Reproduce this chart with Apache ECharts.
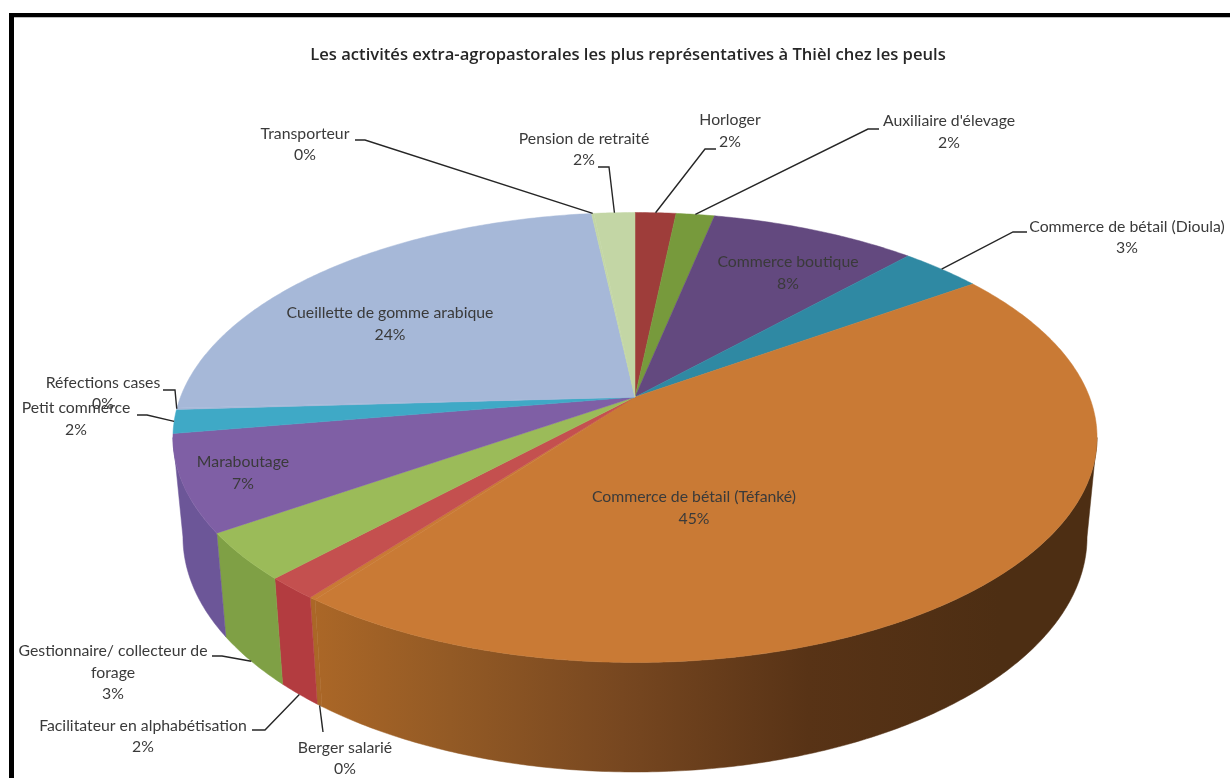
<!DOCTYPE html>
<html><head><meta charset="utf-8">
<style>html,body{margin:0;padding:0;background:#fff}#c{width:1230px;height:778px}</style>
<script src="https://cdn.jsdelivr.net/npm/echarts@6/dist/echarts.min.js"></script>
</head><body><div id="c"></div>
<script>
const titleText = "Les activités extra-agropastorales les plus représentatives à Thièl chez les peuls";
const categories = ["Horloger","Auxiliaire d'élevage","Commerce boutique","Commerce de bétail (Dioula)","Commerce de bétail (Téfanké)","Berger salarié","Facilitateur en alphabétisation","Gestionnaire/ collecteur de\nforage","Maraboutage","Petit commerce","Réfections cases","Cueillette de gomme arabique","Transporteur","Pension de retraité"];
const values = [1.7,1.6,8.6,3.4,45.0,0.2,1.6,3.4,6.9,1.7,0.1,24.0,0.1,1.7];
const percentLabels = ["2%","2%","8%","3%","45%","0%","2%","3%","7%","2%","0%","24%","0%","2%"];
const topColors = ["#9e3d3a","#779a3c","#63497f","#2f89a3","#c97a35","#c97a35","#c4504f","#9bbb59","#7f5fa5","#3fa9c6","#a6b8d8","#a6b8d8","#c3d6a5","#c3d6a5"];
const sideColors = ["#7e2f2d","#5f7b30","#4f3a66","#256d82","#a0611f","#b06a28","#b33c40","#7fa045","#6c5698","#32879e","#8493ad","#8493ad","#9cab84","#9cab84"];

// Layout of the drawing (not data)
const TOP = {cx:635, cy:437.5, rx:462, ry:225, apexY:397, k:0.18, H:217.7, R:454.5};
const BOTTOM = {cx:635, cy:537, rx:452, ry:235};
const labelCenters = [[730,131],[949,132],[788,273],[1127,237.5],[694,508],[345,758.5],[143,736.5],[113,672.5],[243,473],[76,419],[103,393.5],[390,324],[305,144.5],[584,149.5]];
const labelLeaders = [
  [[716,149],[705,149]],
  [[879,129],[868,129]],
  null,
  [[1027,232],[1013,232]],
  null,
  [[323,732]],
  [[252,730],[265,730]],
  [[212,656],[222,656]],
  null,
  [[137,415],[147,415]],
  [[163,390],[175,390]],
  null,
  [[355,140],[365,140]],
  [[598,167],[609,167]]
];
const labelFont = '15.8px Lato, "Open Sans", sans-serif';
const labelColor = '#3a3a3a';

const total = values.reduce((a,b)=>a+b,0);
const starts = []; let acc = 0;
values.forEach(v=>{starts.push(acc); acc += v;});
function theta(p){ return p/total*2*Math.PI; }
function topPt(t){
  const u=Math.sin(t), v=Math.cos(t), w=1+TOP.k*v;
  return [TOP.cx+TOP.R*u/w, TOP.apexY-TOP.H*v/w];
}
function botPt(t){
  const p=topPt(t);
  const cs=(p[0]-TOP.cx)/TOP.rx, sn=(p[1]-TOP.cy)/TOP.ry;
  return [BOTTOM.cx+BOTTOM.rx*cs, BOTTOM.cy+BOTTOM.ry*sn];
}
function rimArc(a,b,fn){ const n=Math.max(2,Math.ceil((b-a)/0.01)); const out=[];
  for(let i=0;i<=n;i++) out.push(fn(a+(b-a)*i/n)); return out; }
function tAtSide(sign){
  const v=-TOP.k; const u=sign*Math.sqrt(1-v*v);
  let t=Math.atan2(u,v); if(t<0) t+=2*Math.PI; return t;
}
const tR=tAtSide(1), tL=tAtSide(-1);
const orangeSide = new echarts.graphic.LinearGradient(313,0,1000,0,[
  {offset:0,color:'#ab6727'},{offset:0.2,color:'#935a25'},{offset:0.45,color:'#774720'},
  {offset:0.72,color:'#583316'},{offset:1,color:'#4d2e13'}],true);

const idx = categories.map((_,i)=>i);
function sideItem(params){
  const i=params.dataIndex;
  const a=Math.max(theta(starts[i]),tR), b=Math.min(theta(starts[i]+values[i]),tL);
  if(b<=a) return {type:'group',children:[]};
  const pts=rimArc(a,b,topPt).concat(rimArc(a,b,botPt).reverse());
  const fill=(i===4||i===5)?orangeSide:sideColors[i];
  return {type:'polygon',shape:{points:pts},style:{fill:fill,stroke:fill,lineWidth:0.5}};
}
function topItem(params){
  const i=params.dataIndex;
  const a=theta(starts[i]), b=theta(starts[i]+values[i]);
  const pts=[[TOP.cx,TOP.apexY]].concat(rimArc(a,b,topPt));
  return {type:'polygon',shape:{points:pts},style:{fill:topColors[i],stroke:topColors[i],lineWidth:0.5}};
}
function leaderItem(params){
  const i=params.dataIndex, l=labelLeaders[i];
  if(!l) return {type:'group',children:[]};
  const t=theta(starts[i]+values[i]/2);
  const front=t>tR&&t<tL;
  const anchor=front?botPt(t):topPt(t);
  return {type:'polyline',shape:{points:l.concat([anchor])},style:{stroke:'#262626',lineWidth:1.4,fill:null}};
}
function textItem(params){
  const i=params.dataIndex, c=labelCenters[i];
  return {type:'text',style:{x:c[0],y:c[1],text:categories[i]+"\n"+percentLabels[i],font:labelFont,lineHeight:21.5,
    fill:labelColor,align:'center',verticalAlign:'middle'}};
}
const chart=echarts.init(document.getElementById('c'),null,{renderer:'canvas'});
chart.setOption({
  animation:false,
  backgroundColor:'#fff',
  title:{text:titleText,left:623,top:42,textAlign:'center',
    textStyle:{fontFamily:'"Open Sans", sans-serif',fontSize:16.6,fontWeight:600,color:'#262626'}},
  graphic:[
    {type:'rect',shape:{x:9,y:13,width:5,height:765},style:{fill:'#000'},z:100,silent:true},
    {type:'rect',shape:{x:9,y:13,width:1221,height:4},style:{fill:'#000'},z:100,silent:true},
    {type:'rect',shape:{x:14,y:17,width:1216,height:1},style:{fill:'#bdbdbd'},z:100,silent:true}
  ],
  series:[
    {type:'custom',coordinateSystem:'none',data:idx,renderItem:sideItem,silent:true,z:2},
    {type:'custom',coordinateSystem:'none',data:idx,renderItem:topItem,silent:true,z:3},
    {type:'custom',coordinateSystem:'none',data:idx,renderItem:leaderItem,silent:true,z:4},
    {type:'custom',coordinateSystem:'none',data:idx,renderItem:textItem,silent:true,z:5}
  ]
});
</script></body></html>
